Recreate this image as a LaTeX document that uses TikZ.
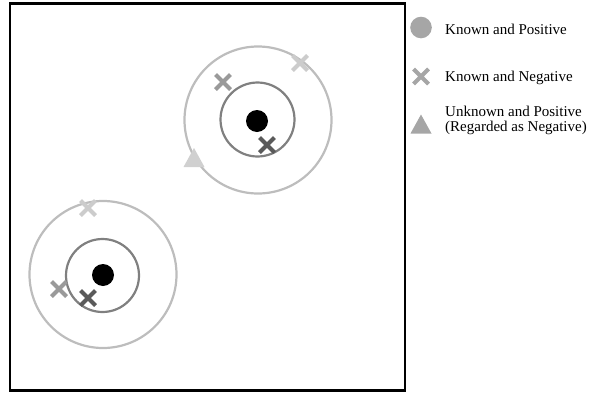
\documentclass[tikz,border=0pt]{standalone}
\usepackage{fontspec}
\setmainfont{Liberation Serif}
\definecolor{outerc}{HTML}{BDBDBD}
\definecolor{innerc}{HTML}{808080}
\definecolor{lightx}{HTML}{CCCCCC}
\definecolor{midx}{HTML}{9A9A9A}
\definecolor{darkx}{HTML}{5A5A5A}
\definecolor{tric}{HTML}{D0D0D0}
\definecolor{legc}{HTML}{A6A6A6}
\tikzset{
  xmk/.pic={\draw[line width=4pt,#1] (-7.5,-7.5)--(7.5,7.5) (-7.5,7.5)--(7.5,-7.5);},
  trimk/.pic={\fill[#1] (0,-10)--(10.5,9)--(-10.5,9)--cycle;},
  outerring/.style={draw=outerc,line width=2.2pt},
  innerring/.style={draw=innerc,line width=2.2pt},
  legtext/.style={anchor=base west,inner sep=0pt,font=\fontsize{15}{15.6}\selectfont,align=left}
}
\begin{document}
\begin{tikzpicture}[x=1pt,y=-1pt]
\useasboundingbox (0,0) rectangle (611,394);
\draw[line width=2.5pt] (10,3.5) rectangle (405,390.5);
% upper group
\draw[outerring] (258,120) circle (73.5);
\draw[innerring] (257.5,119.5) circle (37);
\fill (257,121) circle (11);
\pic at (267,145) {xmk=darkx};
\pic at (223,82) {xmk=midx};
\pic at (300,63) {xmk=lightx};
\pic at (194,158) {trimk=tric};
% lower group
\draw[outerring] (103,274.5) circle (73.5);
\draw[innerring] (102.5,275.5) circle (36.5);
\fill (103,275) circle (11);
\pic at (88,208) {xmk=lightx};
\pic at (59,289) {xmk=midx};
\pic at (88,298) {xmk=darkx};
% legend
\fill[legc] (421,27.5) circle (10.8);
\node[legtext] (l1) at (445,34) {Known and Positive};
\pic at (421,76.5) {xmk=legc};
\node[legtext] (l2) at (445,81.7) {Known and Negative};
\pic at (421,124.5) {trimk=legc};
\node[legtext] (l3) at (445,131.7) {Unknown and Positive\\(Regarded as Negative)};
\end{tikzpicture}
\end{document}
